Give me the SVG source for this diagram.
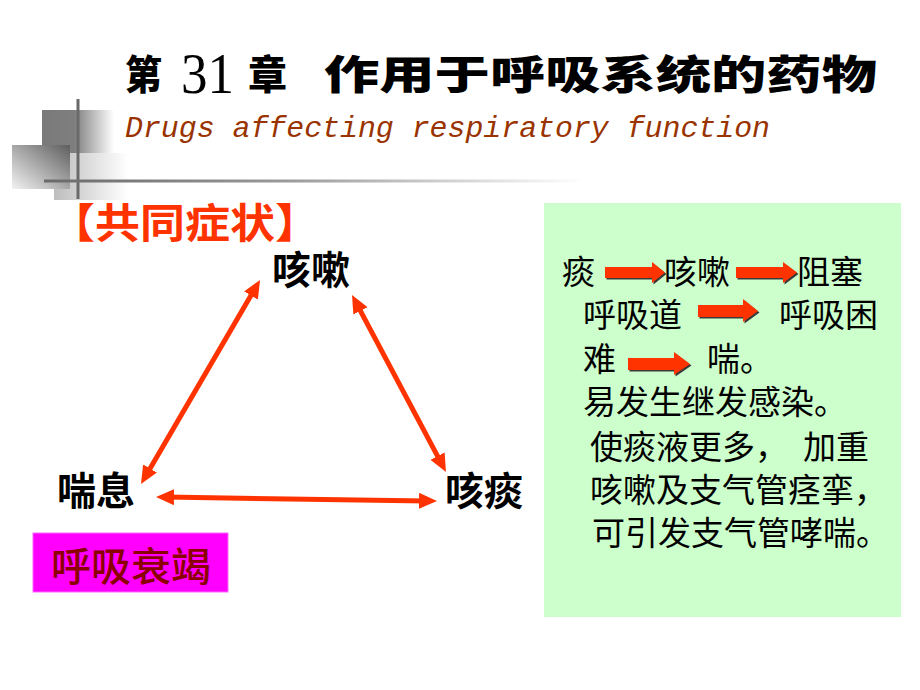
<svg xmlns="http://www.w3.org/2000/svg" width="920" height="690" viewBox="0 0 920 690">
  <style>
    .cjk { font-family: "Noto Sans CJK SC", "Noto Sans", sans-serif; }
    .title { font-weight: 900; fill: #000; }
    .node { font-weight: 700; font-size: 39px; fill: #000; }
    .body { font-size: 33px; fill: #000; font-weight: 400; }
    .conn { stroke: #FF3300; stroke-width: 5; fill: none; }
    .blk { fill: #FF3300; }
    .blkshadow { fill: #3a3a3a; }
  </style>
  <defs>
    <linearGradient id="gSq1" x1="0" y1="0" x2="1" y2="0">
      <stop offset="0" stop-color="#7a7a7a"/>
      <stop offset="0.45" stop-color="#7e7e7e"/>
      <stop offset="1" stop-color="#ffffff"/>
    </linearGradient>
    <linearGradient id="gSq2" x1="1" y1="0" x2="0" y2="1">
      <stop offset="0" stop-color="#5e5e5e"/>
      <stop offset="1" stop-color="#f2f2f2"/>
    </linearGradient>
    <linearGradient id="gSq3" x1="0" y1="0" x2="1" y2="0">
      <stop offset="0" stop-color="#bdbdbd"/>
      <stop offset="1" stop-color="#ffffff"/>
    </linearGradient>
    <linearGradient id="gLine" x1="0" y1="0" x2="1" y2="0">
      <stop offset="0" stop-color="#6a6a6a"/>
      <stop offset="0.45" stop-color="#9a9a9a"/>
      <stop offset="1" stop-color="#ffffff"/>
    </linearGradient>
    <marker id="head" viewBox="0 0 18 16" refX="8" refY="8" markerWidth="18" markerHeight="16" markerUnits="userSpaceOnUse" orient="auto-start-reverse">
      <path d="M0,0 L18,8 L0,16 z" fill="#FF3300"/>
    </marker>
  </defs>

  <rect width="920" height="690" fill="#ffffff"/>

  <g id="decoration">
    <rect x="54" y="153" width="74" height="47" fill="url(#gSq3)"/>
    <rect x="42" y="110" width="72" height="43" fill="url(#gSq1)"/>
    <rect x="12" y="145" width="58" height="44" fill="url(#gSq2)"/>
    <rect x="76.5" y="99" width="3" height="100" fill="#6a6a6a"/>
    <rect x="44" y="179.5" width="540" height="3" fill="url(#gLine)"/>
  </g>

  <g id="title">
    <text class="cjk title" x="125" y="89" font-size="40" textLength="37" lengthAdjust="spacingAndGlyphs">第</text>
    <text x="181" y="93" font-family="Liberation Serif, serif" font-size="58" fill="#000" textLength="53" lengthAdjust="spacingAndGlyphs">31</text>
    <text class="cjk title" x="248" y="89" font-size="40" textLength="39" lengthAdjust="spacingAndGlyphs">章</text>
    <text class="cjk title" x="324" y="89" font-size="40" textLength="553" lengthAdjust="spacingAndGlyphs">作用于呼吸系统的药物</text>
  </g>

  <g id="subtitle">
    <text x="125" y="137" font-family="Liberation Mono, monospace" font-style="italic" font-size="30" fill="#993300" textLength="645" lengthAdjust="spacingAndGlyphs">Drugs affecting respiratory function</text>
  </g>

  <g id="symptoms-header">
    <text class="cjk" x="50" y="238" font-size="41" font-weight="700" fill="#FF3300" textLength="270" lengthAdjust="spacingAndGlyphs">【共同症状】</text>
  </g>

  <g id="node-cough">
    <text class="cjk node" x="272" y="284">咳嗽</text>
  </g>
  <g id="node-asthma">
    <text class="cjk node" x="57" y="505">喘息</text>
  </g>
  <g id="node-phlegm">
    <text class="cjk node" x="445" y="505">咳痰</text>
  </g>

  <g id="connectors">
    <line class="conn" x1="255" y1="288.6" x2="146" y2="475.4" marker-start="url(#head)" marker-end="url(#head)"/>
    <line class="conn" x1="356.7" y1="303.8" x2="441.3" y2="463.2" marker-start="url(#head)" marker-end="url(#head)"/>
    <line class="conn" x1="166" y1="497.1" x2="427" y2="500.9" marker-start="url(#head)" marker-end="url(#head)"/>
  </g>

  <g id="resp-failure">
    <rect x="33" y="533" width="195" height="59" fill="#FF00FF" stroke="#ff66ff" stroke-width="1"/>
    <text class="cjk" x="51" y="581" font-size="40" fill="#8B0000" font-weight="500">呼吸衰竭</text>
  </g>

  <g id="explanation">
    <rect x="544" y="203" width="357" height="414" fill="#CCFFCC"/>
    <g>
      <text class="cjk body" x="562" y="284">痰</text>
      <text class="cjk body" x="664" y="284">咳嗽</text>
      <text class="cjk body" x="797" y="284">阻塞</text>
      <text class="cjk body" x="583" y="327">呼吸道</text>
      <text class="cjk body" x="779" y="327">呼吸困</text>
      <text class="cjk body" x="583" y="371">难</text>
      <text class="cjk body" x="707" y="371">喘。</text>
      <text class="cjk body" x="583" y="414">易发生继发感染。</text>
      <text class="cjk body" x="590" y="459">使痰液更多，<tspan x="803">加重</tspan></text>
      <text class="cjk body" x="590" y="502">咳嗽及支气管痉挛，</text>
      <text class="cjk body" x="592" y="545">可引发支气管哮喘。</text>
    </g>
    <g id="block-arrows">
      <polygon class="blkshadow" transform="translate(1.5,1.5)" points="605,267 652,267 652,262 665,272.5 652,283 652,278 605,278"/>
      <polygon class="blk" points="605,267 652,267 652,262 665,272.5 652,283 652,278 605,278"/>
      <polygon class="blkshadow" transform="translate(1.5,1.5)" points="736,267 783,267 783,262 797,272.5 783,283 783,278 736,278"/>
      <polygon class="blk" points="736,267 783,267 783,262 797,272.5 783,283 783,278 736,278"/>
      <polygon class="blkshadow" transform="translate(1.5,1.5)" points="698,305 743,305 743,299 758,311 743,322 743,317 698,317"/>
      <polygon class="blk" points="698,305 743,305 743,299 758,311 743,322 743,317 698,317"/>
      <polygon class="blkshadow" transform="translate(1.5,1.5)" points="628,358 674,358 674,352 690,364 674,375 674,370 628,370"/>
      <polygon class="blk" points="628,358 674,358 674,352 690,364 674,375 674,370 628,370"/>
    </g>
  </g>
</svg>
